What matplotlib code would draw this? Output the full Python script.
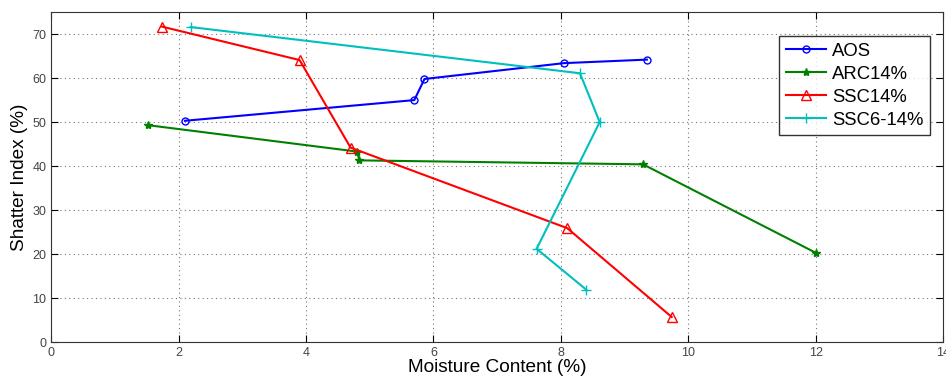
import matplotlib
matplotlib.use('Agg')
import matplotlib.pyplot as plt

plt.rcParams['font.family'] = ['Liberation Sans', 'DejaVu Sans']

# AOS
aos_x = [2.1, 5.7, 5.86, 8.05, 9.35]
aos_y = [50.3, 55.0, 59.8, 63.4, 64.2]
# ARC14%
arc_x = [1.52, 4.8, 4.84, 9.29, 12.0]
arc_y = [49.3, 43.3, 41.3, 40.4, 20.3]
# SSC14%
ssc_x = [1.74, 3.9, 4.7, 8.1, 9.74]
ssc_y = [71.7, 64.1, 44.2, 25.9, 5.7]
# SSC6-14%
ssc6_x = [2.19, 8.3, 8.61, 7.62, 8.4]
ssc6_y = [71.6, 61.1, 50.0, 21.2, 11.9]

fig = plt.figure(figsize=(9.46, 3.78), dpi=100)
ax = fig.add_axes([0.054, 0.095, 0.943, 0.873])

ax.plot(aos_x, aos_y, color='#0000ff', marker='o', mfc='none', ms=5, lw=1.5, label='AOS')
ax.plot(arc_x, arc_y, color='#008000', marker='*', ms=6, lw=1.5, label='ARC14%')
ax.plot(ssc_x, ssc_y, color='#ff0000', marker='^', mfc='none', ms=7, lw=1.5, label='SSC14%')
ax.plot(ssc6_x, ssc6_y, color='#00bfbf', marker='+', ms=7, lw=1.5, label='SSC6-14%')

ax.set_xlim(0, 14)
ax.set_ylim(0, 75)
ax.set_xticks(range(0, 15, 2))
ax.set_yticks(range(0, 71, 10))
ax.grid(True, linestyle=(0, (1, 3)), color='#777777', linewidth=0.8)
ax.tick_params(direction='in', top=True, right=True, labelsize=9, labelcolor='#444444', length=5)
for s in ax.spines.values():
    s.set_color('#333333')

ax.set_xlabel('Moisture Content (%)', fontsize=13.7, labelpad=0)
ax.set_ylabel('Shatter Index (%)', fontsize=13.7, labelpad=3)

leg = ax.legend(loc='upper right', bbox_to_anchor=(0.985, 0.927), fontsize=13.3, frameon=True,
                fancybox=False, edgecolor='black', handlelength=2.2, handletextpad=0.3,
                labelspacing=0.33, borderpad=0.35, borderaxespad=0)
leg.get_frame().set_linewidth(1.0)

fig.savefig('out.png', dpi=100)
